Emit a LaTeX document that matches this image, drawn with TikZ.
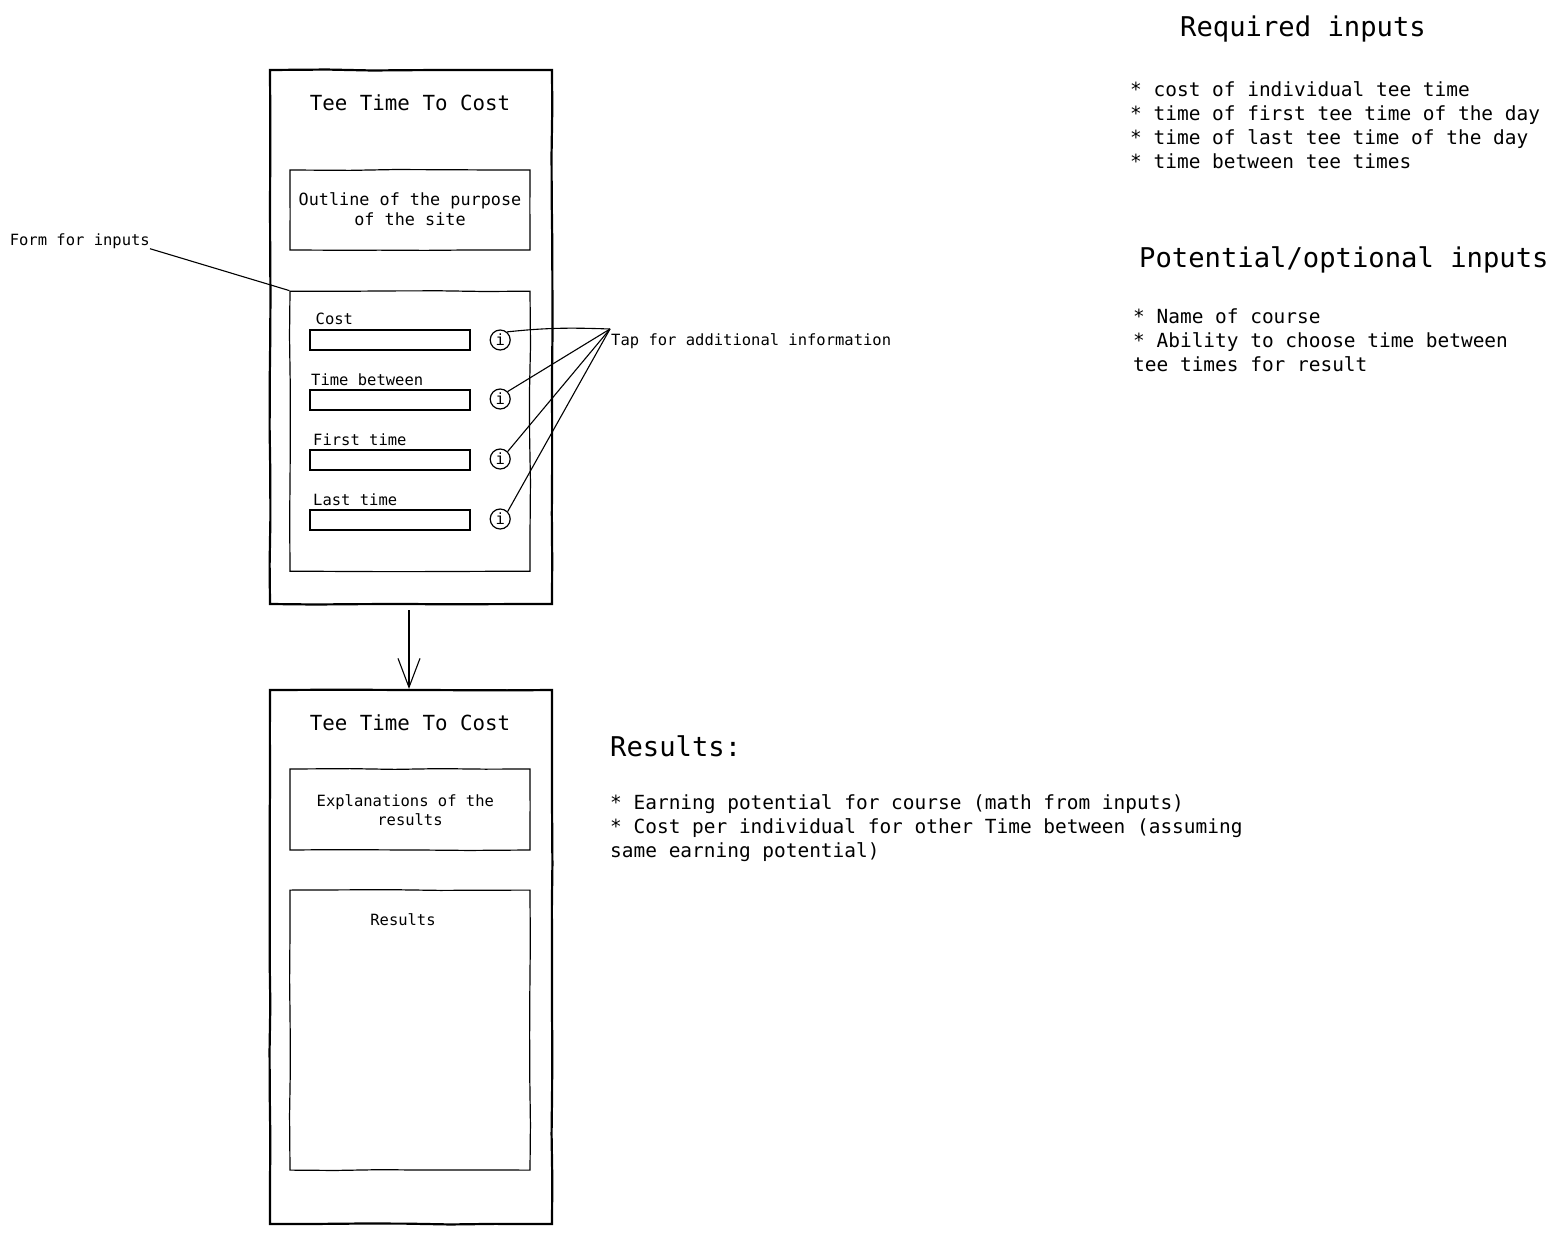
\documentclass[tikz,border=0pt]{standalone}
\usepackage{fontspec}
\setmainfont{DejaVu Sans Mono}
\usetikzlibrary{arrows.meta, positioning, calc, decorations.pathmorphing}

\begin{document}
\begin{tikzpicture}[
    x=1pt, y=-1pt,
    node distance=20pt and 20pt,
    % Core Shapes
    rough/.style={decorate, decoration={random steps, segment length=45pt, amplitude=0.5pt}},
    screen/.style={rectangle, rough, draw=black, line width=2.2pt, minimum width=282pt, minimum height=534pt, anchor=north west},
    panel/.style={rectangle, rough, draw=black, line width=1.2pt, minimum width=240pt, text centered},
    field/.style={rectangle, draw=black, line width=1.2pt, minimum width=160pt, minimum height=20pt},
    info/.style={circle, draw=black, line width=1.2pt, minimum size=20pt, inner sep=0pt, font=\fontsize{15.5}{18}\selectfont},
    % Text
    title/.style={inner sep=0pt, font=\fontsize{20.8}{24}\selectfont},
    small/.style={inner sep=0pt, font=\fontsize{15.5}{19}\selectfont},
    heading/.style={inner sep=0pt, font=\fontsize{27.2}{32}\selectfont},
    body/.style={inner sep=0pt, align=left, font=\fontsize{19.45}{24}\selectfont},
    % Connectors
    line/.style={line width=1.1pt, draw=black},
    flow/.style={line width=1.1pt, draw=black, -{Straight Barb[length=29pt, width=22pt]}},
]
\useasboundingbox (0,0) rectangle (1559,1234);

% 1. Input screen
\node[screen] (inputScreen) at (268.9,68.9) {};
\node[title] (inputTitle) at (410,103) {Tee Time To Cost};
\node[panel, minimum height=80pt] (purpose) at (410,210) {};
\node[inner sep=0pt, align=center, font=\fontsize{16.8}{20}\selectfont] (purposeText) at (410,209.5) {Outline of the purpose\\of the site};
\node[panel, minimum height=280pt, below=40pt of purpose] (form) {};

% Fields
\node[field] (costField) at (390,340) {};
\node[field, below=38.8pt of costField] (betweenField) {};
\node[field, below=38.8pt of betweenField] (firstField) {};
\node[field, below=38.8pt of firstField] (lastField) {};

\node[small, anchor=base west] (costLabel) at (315.5,324) {Cost};
\node[small, anchor=base west] (betweenLabel) at (311,385) {Time between};
\node[small, anchor=base west] (firstLabel) at (313,445) {First time};
\node[small, anchor=base west] (lastLabel) at (313,505) {Last time};

\node[info, right=19pt of costField] (costInfo) {i};
\node[info, right=19pt of betweenField, yshift=1pt] (betweenInfo) {i};
\node[info, right=19pt of firstField, yshift=1pt] (firstInfo) {i};
\node[info, right=19pt of lastField, yshift=1pt] (lastInfo) {i};

% 2. Results screen
\node[screen] (resultScreen) at (268.9,688.9) {};
\node[title] (resultTitle) at (410,723) {Tee Time To Cost};
\node[panel, minimum height=81pt] (explain) at (410,809.5) {};
\node[small, align=center] (explainText) at (410,810.5) {Explanations of the\phantom{x}\\results};
\node[panel, minimum height=280pt, below=38.9pt of explain] (results) {};
\node[small] (resultsText) at (403,920) {Results};

% Side notes
\node[small, anchor=east] (formLabel) at (150,241) {Form for inputs};
\node[small, anchor=west] (tapLabel) at (611,341) {Tap for additional information};
\coordinate (tapPoint) at (610,329);

\node[heading, anchor=west] (requiredHead) at (1180,29) {Required inputs};
\node[body, anchor=west] (requiredList) at (1130,125.5) {* cost of individual tee time\\* time of first tee time of the day\\* time of last tee time of the day\\* time between tee times};
\node[heading, anchor=west] (optionalHead) at (1139,260) {Potential/optional inputs};
\node[body, anchor=west] (optionalList) at (1133,340.5) {* Name of course\\* Ability to choose time between\\tee times for result};
\node[heading, anchor=west] (resultsHead) at (610,746) {Results:};
\node[body, anchor=west] (resultsList) at (610,828.5) {* Earning potential for course (math from inputs)\\* Cost per individual for other Time between (assuming\\same earning potential)};

% Connections
\draw[line] (formLabel.south east) -- (form.north west);
\draw[line] (costInfo.50) to[out=6, in=178] (tapPoint);
\draw[line] (betweenInfo.north east) -- (tapPoint);
\draw[line] (firstInfo.north east) -- (tapPoint);
\draw[line] (lastInfo.north east) -- (tapPoint);
\draw[flow] ($(inputScreen.south)+(-2,5)$) -- ($(resultScreen.north)+(-2,0)$);

\end{tikzpicture}
\end{document}
